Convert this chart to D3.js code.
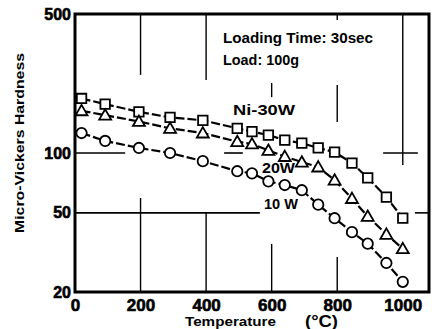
<!DOCTYPE html>
<html><head><meta charset="utf-8">
<script src="https://cdn.jsdelivr.net/npm/d3@7"></script>
<style>
html,body{margin:0;padding:0;background:#fff;}
svg{display:block;}
text{font-family:"Liberation Sans",Arial,sans-serif;font-weight:bold;fill:#000;}
</style></head>
<body><svg id="chart" width="432" height="329"></svg>
<script>
// ---- data ----
const temps = [20, 92, 195, 290, 390, 495, 540, 590, 640, 692, 742, 792, 845, 893, 950, 1000];
const ni30W = [188, 176, 161, 151, 146, 133, 128, 123, 116, 112, 106, 101, 89, 75, 60, 47];
const ni20W = [163, 155, 144, 133, 126, 114, 111, 103, 96, 90, 85, 73, 59, 48, 39, 33];
const ni10W = [126, 115, 106, 100, 91, 81, 79, 72, 69, 65, 55, 47, 40, 35, 28, 22.5];
const xTicks = [0, 200, 400, 600, 800, 1000];
const yTicks = [20, 50, 100, 500];
// partial grid lines in data units: vertical [temp, hardness from, hardness to]
const vGrid = [[200, 247, 500], [200, 20, 59.4], [400, 233, 500], [400, 20, 50],
               [600, 191, 225], [600, 20, 34.9], [800, 466, 500], [800, 143, 220],
               [800, 20, 30], [1000, 87, 500]];
// horizontal [hardness, temp from, temp to]
const hGrid = [[100, 0, 153], [100, 455, 512], [100, 940, 1046], [50, 0, 564], [50, 1037, 1080]];

// ---- layout ----
const L = 75, R = 429, T = 14, B = 292;
const svg = d3.select("#chart");
const x = d3.scaleLinear().domain([0, 1080]).range([L, R]);
const y = d3.scaleLog().domain([20, 500]).range([B, T]);

// grid
svg.append("g").selectAll("line").data(vGrid).join("line")
  .attr("x1", d => x(d[0])).attr("x2", d => x(d[0]))
  .attr("y1", d => y(d[1])).attr("y2", d => y(d[2]))
  .attr("stroke", "#000").attr("stroke-width", 1.4);
svg.append("g").selectAll("line").data(hGrid).join("line")
  .attr("y1", d => y(d[0])).attr("y2", d => y(d[0]))
  .attr("x1", d => x(d[1])).attr("x2", d => x(d[2]))
  .attr("stroke", "#000").attr("stroke-width", 1.6);

// frame
svg.append("rect").attr("x", L).attr("y", T).attr("width", R - L).attr("height", B - T)
  .attr("fill", "none").attr("stroke", "#000").attr("stroke-width", 3);

// axes (labels only)
const xAxis = svg.append("g").attr("transform", `translate(0,${B})`)
  .call(d3.axisBottom(x).tickValues(xTicks).tickSize(0).tickPadding(7).tickFormat(d3.format("d")));
xAxis.select(".domain").remove();
xAxis.selectAll("text").style("font-family", "'Liberation Sans Narrow','Liberation Sans',sans-serif")
  .style("font-size", "17px").style("font-weight", "bold")
  .attr("stroke", "#000").attr("stroke-width", 0.6);
const yAxis = svg.append("g").attr("transform", `translate(${L},0)`)
  .call(d3.axisLeft(y).tickValues(yTicks).tickSize(0).tickPadding(4).tickFormat(d3.format("d")));
yAxis.select(".domain").remove();
yAxis.selectAll("text").style("font-family", "'Liberation Sans Narrow','Liberation Sans',sans-serif")
  .style("font-size", "16px").style("font-weight", "bold")
  .attr("stroke", "#000").attr("stroke-width", 0.6);

// series
const series = [
  {name: "30W", vals: ni30W, shape: "square"},
  {name: "20W", vals: ni20W, shape: "triangle"},
  {name: "10W", vals: ni10W, shape: "circle"}
];
const line = d3.line().x(d => x(d[0])).y(d => y(d[1]));
series.forEach(s => {
  const pts = temps.map((t, i) => [t, s.vals[i]]);
  svg.append("path").attr("d", line(pts)).attr("fill", "none")
    .attr("stroke", "#000").attr("stroke-width", 2.2).attr("stroke-dasharray", "9,3");
  const sym = s.shape === "square" ? d3.symbolSquare : s.shape === "triangle" ? d3.symbolTriangle : d3.symbolCircle;
  const size = s.shape === "square" ? 90 : s.shape === "triangle" ? 62 : 85;
  svg.append("g").selectAll("path").data(pts).join("path")
    .attr("transform", d => `translate(${x(d[0])},${y(d[1]) + (s.shape === "triangle" ? 1 : 0)})`)
    .attr("d", d3.symbol().type(sym).size(size))
    .attr("fill", "#fff").attr("stroke", "#000").attr("stroke-width", 1.8);
});

// labels
function label(txt, xx, yy, size, len) {
  const t = svg.append("text").attr("x", xx).attr("y", yy).style("font-size", size + "px").text(txt);
  if (len) t.attr("textLength", len).attr("lengthAdjust", "spacingAndGlyphs");
  return t;
}
label("Loading Time: 30sec", 223, 43, 14, 150);
label("Load: 100g", 223, 65, 14, 76);
label("Ni-30W", 233, 115, 14, 62);
label("20W", 262, 173, 14, 33);
label("10 W", 264, 209, 14, 34);
label("Temperature", 185, 326, 13, 91);
label("(°C)", 305, 327, 16, 33);
svg.append("text").attr("transform", "translate(24,143) rotate(-90)")
  .attr("text-anchor", "middle").style("font-size", "13px")
  .attr("textLength", 180).attr("lengthAdjust", "spacingAndGlyphs")
  .text("Micro-Vickers Hardness");
</script></body></html>
